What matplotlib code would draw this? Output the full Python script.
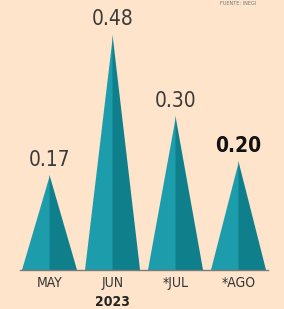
import matplotlib.pyplot as plt
from matplotlib.patches import Polygon
from matplotlib import font_manager

meses = ['MAY', 'JUN', '*JUL', '*AGO']
valores = [0.17, 0.48, 0.30, 0.20]
etiquetas = ['0.17', '0.48', '0.30', '0.20']
anio = '2023'

fondo = '#fde4ca'
claro = '#1d9cab'
oscuro = '#0f7f8c'
fuente = ['DejaVu Sans']

fig = plt.figure(figsize=(2.84, 3.09), dpi=100)
fig.patch.set_facecolor(fondo)
ax = fig.add_axes([0, 0.126, 1, 0.874])
ax.set_facecolor(fondo)

base = -0.04
w = 0.437
for i, v in enumerate(valores):
    ax.add_patch(Polygon([(i - w, base), (i, base), (i, v)], closed=True, fc=claro, ec='none'))
    ax.add_patch(Polygon([(i, base), (i + w, base), (i, v)], closed=True, fc=oscuro, ec='none'))
    ult = (i == len(valores) - 1)
    ax.annotate(etiquetas[i], xy=(i, v), xytext=(0, 4), textcoords='offset points',
                ha='center', va='bottom', fontsize=15, family=fuente, fontstretch='condensed',
                color='#111111' if ult else '#3a3a3a',
                fontweight='bold' if ult else 'normal')

ax.set_xlim(-0.786, 3.722)
ax.set_ylim(base, 0.557)
ax.plot([-0.47, 3.47], [base, base], color='#7a7a7a', lw=1.0, clip_on=False, zorder=3)
ax.axis('off')

for i, m in enumerate(meses):
    ax.annotate(m, xy=(i, base), xytext=(0, -4), textcoords='offset points',
                ha='center', va='top', fontsize=10, family=fuente, fontstretch='condensed',
                color='#333333', annotation_clip=False)
ax.annotate(anio, xy=(1, base), xytext=(0, -18), textcoords='offset points',
            ha='center', va='top', fontsize=10, family=fuente, fontstretch='condensed',
            color='#222222', fontweight='bold', annotation_clip=False)

fig.text(0.84, 0.99, 'FUENTE: INEGI', ha='center', va='center', fontsize=4,
         family=fuente, fontstretch='condensed', color='#777777')

print([f.name for f in font_manager.fontManager.ttflist if 'Condensed' in f.name or 'Narrow' in f.name or f.stretch != 'normal'][:20])

fig.savefig('out.png', dpi=100, facecolor=fondo)
